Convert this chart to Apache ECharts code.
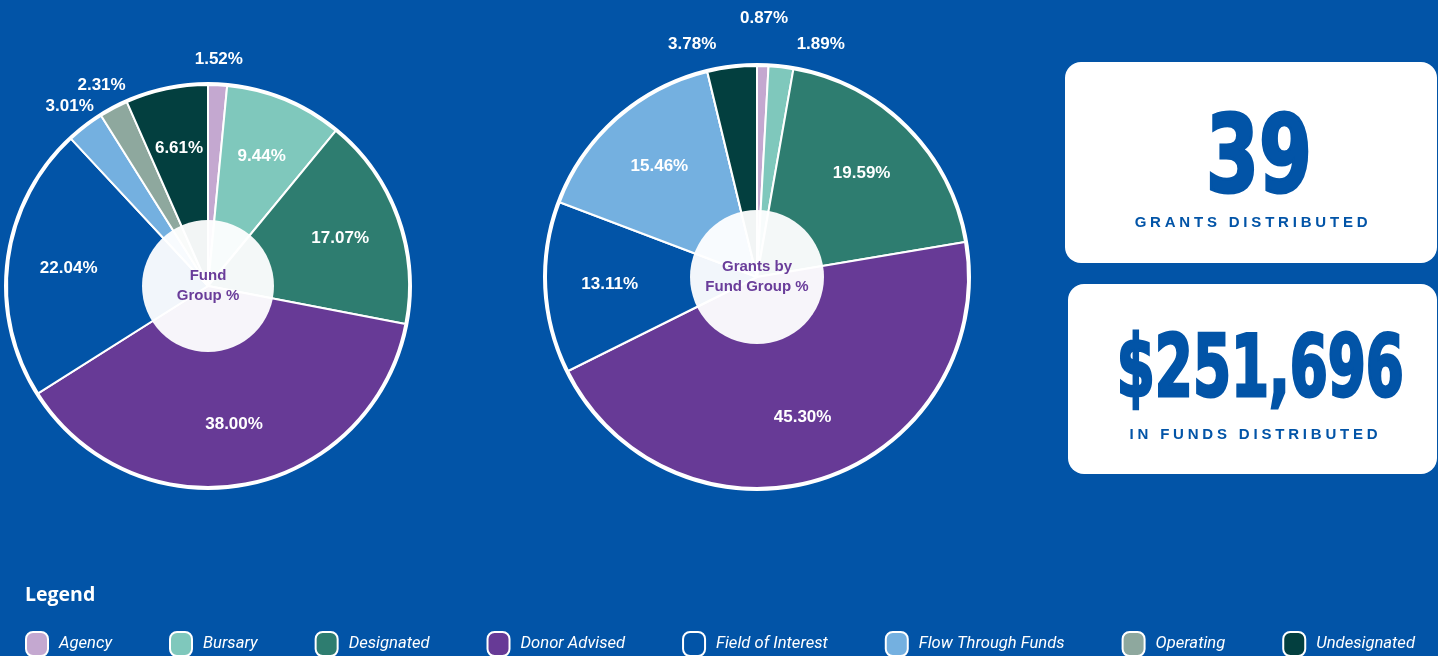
<!DOCTYPE html>
<html>
<head>
<meta charset="utf-8">
<title>Fund Group %</title>
<script src="https://cdn.jsdelivr.net/npm/echarts@6/dist/echarts.min.js"></script>
<style>
  html, body { margin: 0; padding: 0; background: #0254a7; }
  #wrap { position: relative; width: 1438px; height: 656px; overflow: hidden; }
  #chart { position: absolute; left: 0; top: 0; width: 1438px; height: 656px; }
  .card {
    position: absolute; background: #fff; border-radius: 16px;
    color: #0254a7; text-align: center; font-family: 'Liberation Sans', Arial, sans-serif;
  }
  .card .big {
    position: absolute; left: -150px; right: -150px; white-space: nowrap;
    font-family: 'DejaVu Sans Condensed', 'DejaVu Sans', sans-serif;
    font-weight: 700; -webkit-text-stroke: 3px #0254a7; line-height: 1;
  }
  .card .sub {
    position: absolute; left: 0; right: 0;
    font-weight: 700; font-size: 15px; letter-spacing: 3.8px; line-height: 1;
  }
</style>
</head>
<body>
<div id="wrap">
  <div id="chart"></div>
  <div class="card" style="left:1065px; top:62px; width:372px; height:201px;">
    <div class="big" id="grants-count" style="top:39px; font-size:107px; padding-left:20px; transform:scaleX(0.79);"></div>
    <div class="sub" id="grants-label" style="top:152px; padding-left:4px;"></div>
  </div>
  <div class="card" style="left:1068px; top:284px; width:369px; height:190px;">
    <div class="big" id="funds-total" style="top:40px; font-size:85px; padding-left:22px; transform:scaleX(0.715);"></div>
    <div class="sub" id="funds-label" style="top:142px; padding-left:6px;"></div>
  </div>
</div>
<script>
const CATEGORIES = ['Agency', 'Bursary', 'Designated', 'Donor Advised', 'Field of Interest', 'Flow Through Funds', 'Operating', 'Undesignated']
const FUND_GROUP_PCT = [1.52, 9.44, 17.07, 38.0, 22.04, 3.01, 2.31, 6.61]
const GRANTS_PCT = [0.87, 1.89, 19.59, 45.3, 13.11, 15.46, 0, 3.78]
const COLORS = ['#c4a8d0', '#7fc8bc', '#2e7d70', '#673a96', '#0254a7', '#74b0e0', '#8ea89e', '#033f3f']

const GRANTS_COUNT = '39'
const GRANTS_LABEL = 'GRANTS DISTRIBUTED'
const FUNDS_TOTAL = '$251,696'
const FUNDS_LABEL = 'IN FUNDS DISTRIBUTED'

document.getElementById('grants-count').textContent = GRANTS_COUNT
document.getElementById('grants-label').textContent = GRANTS_LABEL
document.getElementById('funds-total').textContent = FUNDS_TOTAL
document.getElementById('funds-label').textContent = FUNDS_LABEL

const PURPLE = '#6a3d9a'
const CLEAR = 'rgba(0,0,0,0)'
const pct = (p) => p.value.toFixed(2) + '%'
const valueLabel = { color: '#fff', fontSize: 17, fontWeight: 'bold', fontFamily: 'Liberation Sans, Arial, sans-serif' }

// one pie = slices + white rim + pale hole + transparent rings that carry the value labels
function pieSeries(id, values, cfg) {
  const { center, R, hole, inner, outer, native } = cfg
  const base = { type: 'pie', center, startAngle: 90, clockwise: true, avoidLabelOverlap: false, emphasis: { disabled: true } }
  const items = (show) =>
    CATEGORIES.map((name, i) => ({ name, value: values[i], label: { show: show(values[i]) } }))
  const small = (v) => v > 0 && v < 5
  const ringSmall = native ? (v) => v > 0 && v < 1 : small
  const nativeSmall = native ? (v) => v >= 1 && v < 5 : () => false
  return [
    {
      ...base, id: id + '-main', radius: [0, R],
      itemStyle: { borderColor: '#fff', borderWidth: 2 },
      label: { ...valueLabel, show: false, position: 'outside', formatter: pct },
      labelLine: { show: false, length: 23, length2: 8 },
      data: CATEGORIES.map((name, i) => ({
        name, value: values[i], itemStyle: { color: COLORS[i] }, label: { show: nativeSmall(values[i]) },
      })),
    },
    {
      ...base, id: id + '-rim', radius: [R, R + 3], silent: true,
      itemStyle: { color: '#fff' }, label: { show: false }, labelLine: { show: false },
      data: [{ name: '', value: 1 }],
    },
    {
      ...base, id: id + '-hole', radius: [0, hole], silent: true,
      itemStyle: { color: 'rgba(255,255,255,0.95)' }, labelLine: { show: false },
      label: {
        show: true, position: 'center', formatter: cfg.text,
        color: PURPLE, fontSize: 15, fontWeight: 'bold', lineHeight: 20,
        fontFamily: 'Liberation Sans, Arial, sans-serif',
      },
      data: [{ name: '', value: 1 }],
    },
    {
      ...base, id: id + '-in', radius: inner, silent: true,
      itemStyle: { color: CLEAR, borderWidth: 0 }, labelLine: { show: false },
      label: { ...valueLabel, position: 'inside', formatter: pct },
      data: items((v) => v >= 5),
    },
    {
      ...base, id: id + '-out', radius: outer, silent: true,
      itemStyle: { color: CLEAR, borderWidth: 0 }, labelLine: { show: false },
      label: { ...valueLabel, position: 'inside', formatter: pct },
      data: items(ringSmall),
    },
  ]
}

const chart = echarts.init(document.getElementById('chart'))
chart.setOption({
  backgroundColor: '#0254a7',
  animation: false,
  title: {
    text: 'Legend', left: 20, top: 580,
    textStyle: { color: '#fff', fontSize: 19.5, fontWeight: 'bold', fontFamily: 'Open Sans, sans-serif' },
  },
  legend: {
    data: CATEGORIES,
    left: 20, top: 626,
    itemGap: 57, itemWidth: 22, itemHeight: 24,
    icon: 'path://M7,0 H15 A7,7 0 0 1 22,7 V17 A7,7 0 0 1 15,24 H7 A7,7 0 0 1 0,17 V7 A7,7 0 0 1 7,0 Z',
    itemStyle: { borderColor: '#fff', borderWidth: 2 },
    selectedMode: false,
    textStyle: { color: '#fff', fontSize: 16.6, fontStyle: 'italic', fontFamily: 'Roboto, sans-serif', padding: [0, 0, 0, 6] },
  },
  series: [
    ...pieSeries('fund', FUND_GROUP_PCT, {
      center: [208, 286], R: 201, hole: 66, inner: [74, 201], outer: [201, 247], native: false, text: 'Fund\nGroup %',
    }),
    ...pieSeries('grants', GRANTS_PCT, {
      center: [757, 277], R: 211, hole: 67, inner: [78, 211], outer: [211, 301], native: true, text: 'Grants by\nFund Group %',
    }),
  ],
})
</script>
</body>
</html>
